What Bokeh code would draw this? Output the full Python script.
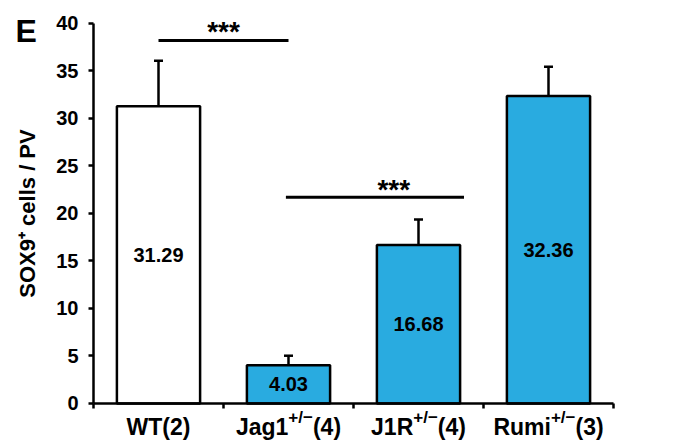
from bokeh.plotting import figure
from bokeh.models import (ColumnDataSource, Range1d, FixedTicker, Whisker, TeeHead,
                          Label)
from bokeh.embed import file_html
from bokeh.resources import INLINE
from bokeh.core.properties import value

# ---- data ----
categories = ["WT", "Jag1", "J1R", "Rumi"]
genotype_sup = ["", "+/\u2212", "+/\u2212", "+/\u2212"]
n_animals = [2, 4, 4, 3]
means = [31.29, 4.03, 16.68, 32.36]
errors = [4.8, 1.0, 2.7, 3.1]
bar_colors = ["#FFFFFF", "#29ABE0", "#29ABE0", "#29ABE0"]
y_ticks = [0, 5, 10, 15, 20, 25, 30, 35, 40]
sig_x0 = [0.5, 1.48]
sig_x1 = [1.5, 2.85]
sig_y = [38.2, 21.7]
sig_star_x = [1.0, 2.31]
sig_text = ["***", "***"]

FONT = "Liberation Sans"
W, H = 697, 448
# plot area spans the whole canvas; axes are pinned at x=0 and y=0
X0, X1 = -0.7154, 4.6462
Y0, Y1 = -4.737, 42.421

xc = [i + 0.5 for i in range(len(categories))]
src = ColumnDataSource(dict(
    x=xc, top=means, color=bar_colors,
    lower=means, upper=[m + e for m, e in zip(means, errors)],
    label_y=[m / 2 for m in means],
    label=["%.2f" % m for m in means],
))

p = figure(width=W, height=H, output_backend="svg", toolbar_location=None,
           x_range=Range1d(X0, X1), y_range=Range1d(Y0, Y1), min_border=0)
p.outline_line_color = None
p.xgrid.visible = False
p.ygrid.visible = False
p.background_fill_color = "white"

p.vbar(x="x", top="top", width=0.64, bottom=0, source=src, fill_color="color",
       line_color="black", line_width=2.5)

p.add_layout(Whisker(base="x", lower="lower", upper="upper", source=src,
                     line_color="black", line_width=2.5, lower_head=None,
                     upper_head=TeeHead(size=9, line_color="black", line_width=2.5),
                     level="overlay"))

p.text(x="x", y="label_y", text="label", source=src, text_align="center",
       text_baseline="middle", text_font=value(FONT), text_font_style="bold",
       text_font_size="20px", text_color="black")

# significance
p.segment(x0=sig_x0, x1=sig_x1, y0=sig_y, y1=sig_y, line_color="black",
          line_width=3)
star_dy = [1.0, 0.85]
p.text(x=sig_star_x, y=[v + d for v, d in zip(sig_y, star_dy)], text=sig_text,
       text_align="center", text_baseline="middle", text_font=value(FONT),
       text_font_style="bold", text_font_size="28px", text_color="black")

# axes
yax = p.yaxis[0]
yax.fixed_location = 0
yax.bounds = (0, 40)
yax.ticker = FixedTicker(ticks=y_ticks)
yax.axis_line_width = 2.5
yax.axis_line_color = "black"
yax.major_tick_line_width = 2.5
yax.major_tick_line_color = "black"
yax.major_tick_out = 5
yax.major_tick_in = 0
yax.minor_tick_out = 0
yax.minor_tick_in = 0
yax.major_label_text_font = FONT
yax.major_label_text_font_style = "bold"
yax.major_label_text_font_size = "20px"
yax.major_label_text_color = "black"
yax.major_label_standoff = 10
yax.axis_label = "SOX9\u207A cells / PV"
yax.axis_label_text_font = FONT
yax.axis_label_text_font_style = "bold"
yax.axis_label_text_font_size = "22px"
yax.axis_label_text_color = "black"
yax.axis_label_standoff = 13

xax = p.xaxis[0]
xax.fixed_location = 0
xax.bounds = (0, len(categories))
xax.ticker = FixedTicker(ticks=list(range(len(categories) + 1)))
xax.axis_line_width = 2.5
xax.axis_line_color = "black"
xax.major_tick_line_width = 2.5
xax.major_tick_line_color = "black"
xax.major_tick_out = 5
xax.major_tick_in = 0
xax.minor_tick_out = 0
xax.minor_tick_in = 0
xax.major_label_text_font_size = "0px"
xax.major_label_text_color = None

# category labels with superscripts
adv = {"W": 944, "T": 611, "(": 333, ")": 333, "J": 556, "a": 556, "g": 611,
       "R": 722, "u": 611, "m": 889, "i": 278, "+": 584, "/": 278, "\u2212": 584}
def width(s, size):
    return sum(adv.get(c, 556) for c in s) * size / 1000.0

BASE, SUP = 23, 17
label_y = -2.5
for c, name, sup, n in zip(xc, categories, genotype_sup, n_animals):
    pieces = [(name, BASE, 0), (sup, SUP, 10), ("(%d)" % n, BASE, 0)]
    pieces = [pc for pc in pieces if pc[0]]
    total = sum(width(t, s) for t, s, _ in pieces)
    off = -total / 2
    for t, s, yo in pieces:
        p.add_layout(Label(x=c, y=label_y, x_offset=off, y_offset=yo, text=t,
                           text_align="left", text_baseline="alphabetic",
                           text_font=FONT, text_font_style="bold",
                           text_font_size="%dpx" % s, text_color="black"))
        off += width(t, s)

# panel letter
p.add_layout(Label(x=-0.6, y=39.26, text="E", text_align="left",
                   text_baseline="alphabetic", text_font=FONT,
                   text_font_style="bold", text_font_size="32px",
                   text_color="black"))

open("out.html", "w").write(file_html(p, INLINE))
